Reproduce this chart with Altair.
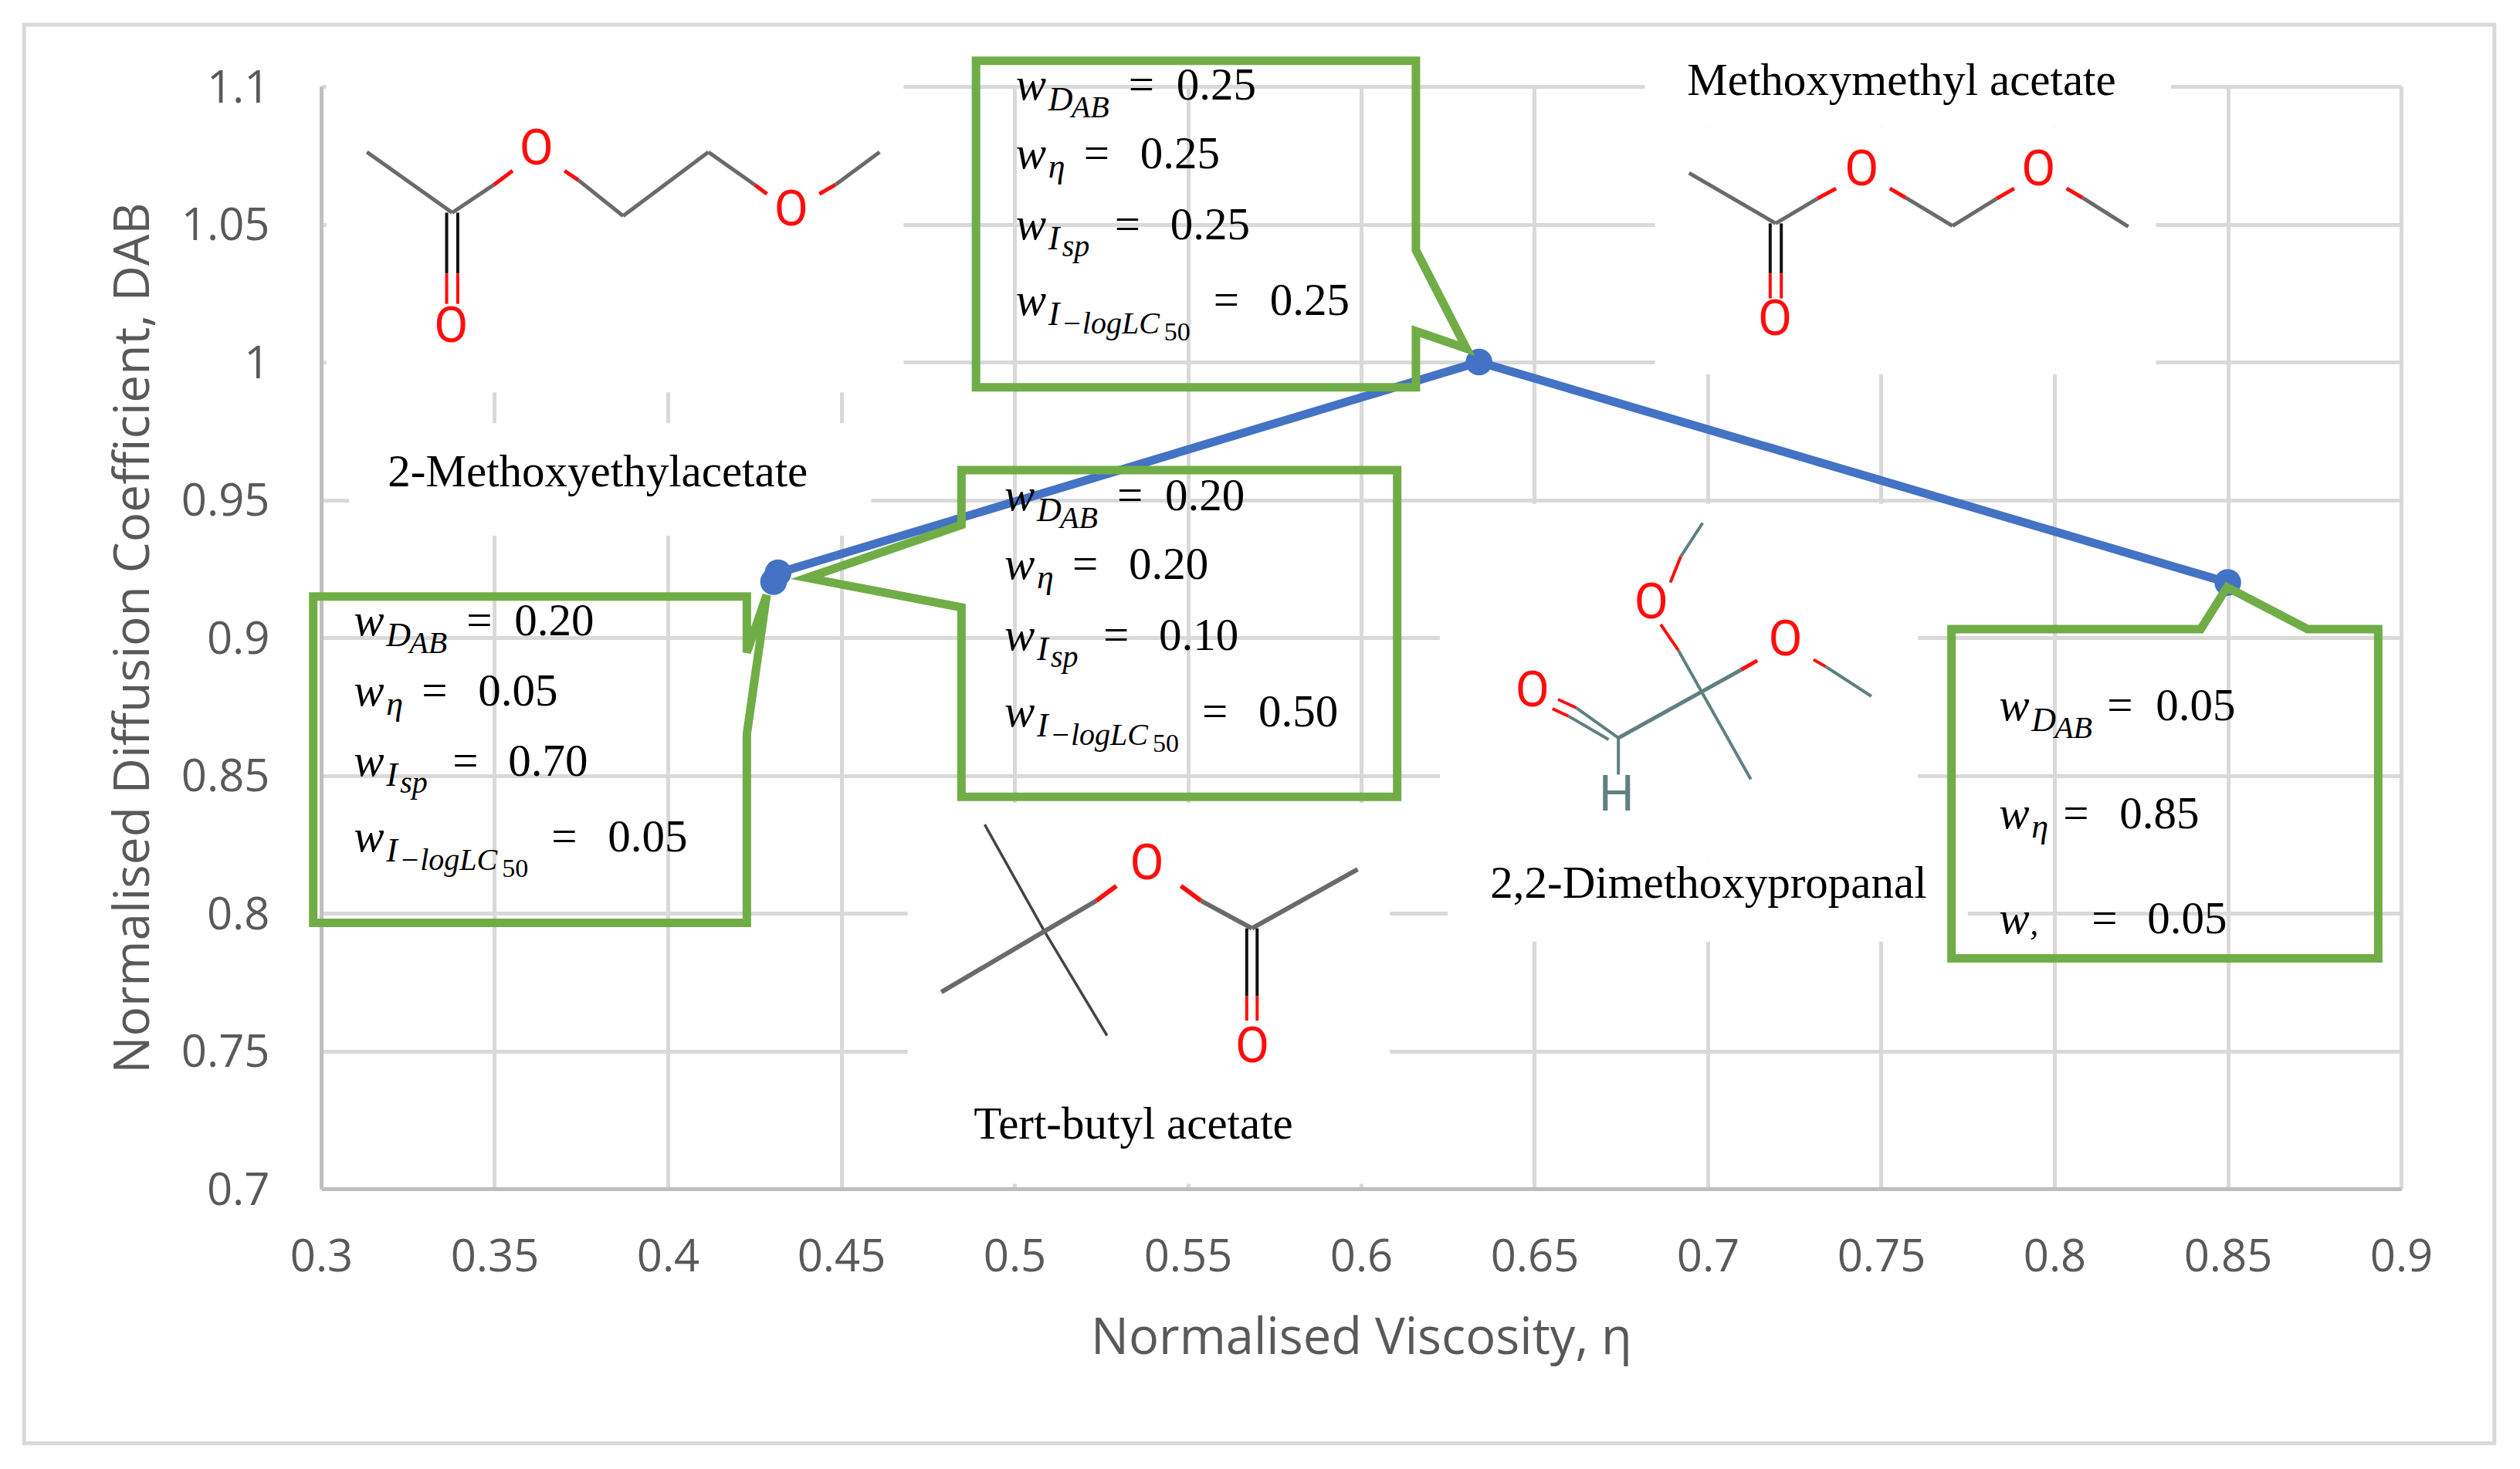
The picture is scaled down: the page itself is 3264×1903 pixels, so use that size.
import altair as alt
import pandas as pd

# ---- series ----
viscosity = [0.4305, 0.4318, 0.634, 0.85]
diffusion = [0.9203, 0.9235, 1.0, 0.92]
x_ticks = [round(0.3 + 0.05 * i, 2) for i in range(13)]
y_ticks = [round(0.7 + 0.05 * i, 2) for i in range(9)]

GRID, AXIS, LABEL = "#D9D9D9", "#BFBFBF", "#595959"
BLUE, GREEN = "#4472C4", "#70AD47"
GRAY, RED, BLK, SLATE, DK = "#6A6A6A", "#FF0D0D", "#111111", "#5F8080", "#444444"

# ---- callouts (data units): closed outlines ----
callouts = {
    "top": [(.4889,1.1093),(.6158,1.1093),(.6158,1.0406),(.6304,1.0049),(.6158,1.0112),(.6158,.9908),(.4889,.9908),(.4889,1.1093)],
    "mid": [(.4847,.9608),(.6104,.9608),(.6104,.8422),(.4847,.8422),(.4847,.9110),(.4402,.9217),(.4847,.9409),(.4847,.9608)],
    "left": [(.2977,.9149),(.4228,.9149),(.4228,.8946),(.4285,.9155),(.4228,.865),(.4228,.7965),(.2977,.7965),(.2977,.9149)],
    "right": [(.7703,.9031),(.8422,.9031),(.8498,.9183),(.8730,.9031),(.8934,.9031),(.8934,.7836),(.7703,.7836),(.7703,.9031)],
}
# weights per callout: start x, baselines y, values
weights = [
    (.5004, [1.0952,1.0703,1.0445,1.0171], ["0.25","0.25","0.25","0.25"], "std"),
    (.4971, [.9462,.9213,.8955,.8678], ["0.20","0.20","0.10","0.50"], "std"),
    (.3094, [.9008,.8754,.8499,.8224], ["0.20","0.05","0.70","0.05"], "std"),
    (.7840, [.8700,.8308,.7927], ["0.05","0.85","0.05"], "right"),
]

# ---- white areas of the pasted structure pictures ----
patches = [
    (.3015,.468,1.1115,.989),
    (.308,.4587,.9778,.937),
    (.6818,.8336,1.1115,1.085),
    (.6848,.8293,1.085,.9956),
    (.6227,.7606,.9485,.82),
    (.625,.775,.82,.7897),
    (.4692,.6083,.84,.7018),
]

# ---- structure bonds: x, x2, y, y2, colour, width ----
bonds = [
 # 2-methoxyethyl acetate
 (.3132,.3378,1.0762,1.0542,GRAY,5),(.3378,.3498,1.0542,1.0643,GRAY,5),(.3498,.3552,1.0643,1.0694,RED,5),
 (.3702,.3742,1.0694,1.0660,RED,5),(.3742,.3871,1.0660,1.0530,GRAY,5),(.3871,.4117,1.0530,1.0762,GRAY,5),
 (.4117,.4251,1.0762,1.0643,GRAY,5),(.4251,.4286,1.0643,1.0610,RED,5),(.4437,.4483,1.0610,1.0643,RED,5),
 (.4483,.4611,1.0643,1.0762,GRAY,5),
 (.3362,.3362,1.0542,1.0321,BLK,4),(.3394,.3394,1.0542,1.0321,BLK,4),(.3362,.3362,1.0321,1.0211,RED,4),(.3394,.3394,1.0321,1.0211,RED,4),
 # methoxymethyl acetate
 (.6946,.7196,1.0686,1.0503,GRAY,5),(.7196,.7316,1.0503,1.0593,GRAY,5),(.7316,.7370,1.0593,1.0630,RED,5),
 (.7525,.7571,1.0630,1.0596,RED,5),(.7571,.7706,1.0596,1.0494,GRAY,5),(.7706,.7833,1.0494,1.0593,GRAY,5),
 (.7833,.7884,1.0593,1.0630,RED,5),(.8035,.8081,1.0630,1.0596,RED,5),(.8081,.8213,1.0596,1.0491,GRAY,5),
 (.7180,.7180,1.0503,1.0321,BLK,4),(.7212,.7212,1.0503,1.0321,BLK,4),(.7180,.7180,1.0321,1.0231,RED,4),(.7212,.7212,1.0321,1.0231,RED,4),
 # 2,2-dimethoxypropanal
 (.6985,.6922,.9416,.9294,SLATE,4),(.6922,.6892,.9294,.9200,RED,4),(.6864,.6915,.9048,.8954,RED,4),(.6915,.7124,.8954,.8486,SLATE,4),
 (.7143,.7096,.8917,.8883,RED,5),(.7096,.6742,.8883,.8636,SLATE,5),(.7305,.7340,.8920,.8895,RED,4),(.7340,.7472,.8895,.8787,SLATE,4),
 (.6568,.6621,.8776,.8745,RED,4),(.6621,.6742,.8745,.8636,SLATE,4),(.6552,.6598,.8742,.8715,RED,4),(.6598,.6714,.8715,.8630,SLATE,4),
 (.6742,.6742,.8636,.8503,SLATE,4),
 # tert-butyl acetate
 (.4914,.5086,.8322,.7935,DK,3.5),(.5086,.5267,.7935,.7556,DK,3.5),(.4789,.5236,.7714,.8045,GRAY,6),(.5236,.5294,.8045,.8099,RED,6),
 (.5480,.5538,.8099,.8045,RED,6),(.5538,.5685,.8045,.7945,GRAY,6),(.5685,.5990,.7945,.8159,GRAY,6),
 (.5670,.5670,.7945,.7700,BLK,4),(.5700,.5700,.7945,.7700,BLK,4),(.5670,.5670,.7700,.7610,RED,4),(.5700,.5700,.7700,.7610,RED,4),
]

# atom letters
atoms = [
 ("O",.3621,1.0771,RED),("O",.4356,1.0550,RED),("O",.3375,1.0126,RED),
 ("O",.7444,1.0694,RED),("O",.7954,1.0694,RED),("O",.7194,1.0151,RED),
 ("O",.6837,.9124,RED),("O",.7224,.8988,RED),("O",.6494,.8805,RED),("H",.6737,.8427,SLATE),
 ("O",.5382,.8176,RED),("O",.5686,.7512,RED),
]
names = [
 ("2-Methoxyethylacetate",.3798,.9599),
 ("Methoxymethyl acetate",.7559,1.102),
 ("2,2-Dimethoxypropanal",.7002,.8107),
 ("Tert-butyl acetate",.5343,.7232),
]

# ---- frame around the whole figure ----
frame = [(.2143,.9269,1.1224,.6076)]

# ---- weight text layouts: (text, dx px, dy px, size, italic) ----
S, SUB, SS, SN = 59, 44, 40, 34
def line_parts(kind, value, layout):
    if kind == 0:
        parts = [("w",0,0,S,1),("D",42,14,SUB,1),("AB",72,23,SS,1),("=",146,0,S,0),(value,208,0,S,0)]
    elif kind == 1:
        parts = [("w",0,0,S,1),("η",42,12,SUB,1),("=",88,0,S,0),(value,161,0,S,0)]
    elif kind == 2 and layout == "right":
        parts = [("w",0,0,S,1),(",",40,2,SUB,1),("=",120,0,S,0),(value,192,0,S,0)]
    elif kind == 2:
        parts = [("w",0,0,S,1),("I",42,13,SUB,1),("sp",60,22,SS,1),("=",128,0,S,0),(value,200,0,S,0)]
    else:
        parts = [("w",0,0,S,1),("I",42,13,SUB,1),("−logLC",59,24,SS,1),("50",192,33,SN,0),("=",256,0,S,0),(value,329,0,S,0)]
    return parts

PXX, PXY = 0.6 / 2694, 0.4 / 1428
frags = []
for x0, ys, vals, layout in weights:
    for k, (yb, v) in enumerate(zip(ys, vals)):
        for t, dx, dy, s, it in line_parts(k, v, layout):
            if layout == "right" and k == 0 and t == "=":
                dx = 140
            if layout == "right" and k == 0 and t == v:
                dx = 203
            if layout == "right" and k == 1 and t == "=":
                dx = 83
            if layout == "right" and k == 1 and t == v:
                dx = 156
            frags.append(dict(t=t, x=x0 + dx * PXX, y=yb - dy * PXY, s=s, it=it))
frags = pd.DataFrame(frags)

sx = alt.Scale(domain=[0.3, 0.9], nice=False, zero=False)
sy = alt.Scale(domain=[0.7, 1.1], nice=False, zero=False)
X = alt.X("x:Q", scale=sx, title="Normalised Viscosity, η",
    axis=alt.Axis(values=x_ticks, format=".2~f", grid=True, gridColor=GRID, gridWidth=5,
        domainColor=AXIS, domainWidth=5, ticks=False, labelPadding=60, labelFontSize=58,
        labelFont="Open Sans", labelColor=LABEL, labelFlush=False, labelOverlap=False,
        titleFont="Open Sans", titleFontSize=65, titleFontWeight="normal", titleColor=LABEL,
        titleBaseline="alphabetic", titleY=213))
Y = alt.Y("y:Q", scale=sy, title="Normalised Diffusion Coefficient, DAB",
    axis=alt.Axis(values=y_ticks, format=".2~f", grid=True, gridColor=GRID, gridWidth=5,
        domainColor=AXIS, domainWidth=5, ticks=False, labelPadding=67, labelFontSize=58,
        labelOffset=3,
        labelFont="Open Sans", labelColor=LABEL, labelOverlap=False,
        titleFont="Open Sans", titleFontSize=64, titleFontWeight="normal", titleColor=LABEL,
        titleBaseline="alphabetic", titleX=-224))

rect_df = lambda rows: pd.DataFrame(rows, columns=["x", "x2", "y", "y2"])

frame_l = alt.Chart(rect_df(frame)).mark_rect(fillOpacity=0, stroke=GRID, strokeWidth=5).encode(
    x=X, x2="x2:Q", y=Y, y2="y2:Q")
patch_l = alt.Chart(rect_df(patches)).mark_rect(fill="white").encode(
    x=X, x2="x2:Q", y=Y, y2="y2:Q")
bond_df = pd.DataFrame(bonds, columns=["x", "x2", "y", "y2", "c", "w"])
bond_l = alt.Chart(bond_df).mark_rule(strokeCap="butt").encode(
    x=X, x2="x2:Q", y=Y, y2="y2:Q",
    color=alt.Color("c:N", scale=None), strokeWidth=alt.StrokeWidth("w:Q", scale=None))
atom_df = pd.DataFrame(atoms, columns=["t", "x", "y", "c"])
atom_l = alt.Chart(atom_df).mark_text(font="Roboto", fontSize=64, baseline="middle", align="center").encode(
    x=X, y=Y, text="t:N", color=alt.Color("c:N", scale=None))
name_df = pd.DataFrame(names, columns=["t", "x", "y"])
name_l = alt.Chart(name_df).mark_text(font="Liberation Serif", fontSize=59, baseline="middle", align="center", color="#000000").encode(
    x=X, y=Y, text="t:N")
series_df = pd.DataFrame({"x": viscosity, "y": diffusion})
line_l = alt.Chart(series_df).mark_line(color=BLUE, strokeWidth=11).encode(x=X, y=Y, order=alt.Order("x:Q"))
point_l = alt.Chart(series_df).mark_point(filled=True, color=BLUE, size=1200, opacity=1).encode(x=X, y=Y)
call_df = pd.DataFrame([dict(g=k, i=i, x=p[0], y=p[1]) for k, pts in callouts.items() for i, p in enumerate(pts)])
call_l = alt.Chart(call_df).mark_line(color=GREEN, strokeWidth=11, strokeJoin="miter", strokeCap="square").encode(
    x=X, y=Y, detail="g:N", order=alt.Order("i:Q"))
text_r = alt.Chart(frags[frags.it == 0]).mark_text(font="Liberation Serif", align="left", baseline="alphabetic", color="#000000").encode(
    x=X, y=Y, text="t:N", size=alt.Size("s:Q", scale=None))
text_i = alt.Chart(frags[frags.it == 1]).mark_text(font="Liberation Serif", fontStyle="italic", align="left", baseline="alphabetic", color="#000000").encode(
    x=X, y=Y, text="t:N", size=alt.Size("s:Q", scale=None))

chart = alt.layer(frame_l, patch_l, bond_l, atom_l, name_l, line_l, point_l, call_l, text_r, text_i).properties(
    width=2694, height=1428,
    autosize=alt.AutoSizeParams(type="none"),
    padding={"left": 408, "top": 104, "right": 140, "bottom": 340},
).configure_view(stroke=None).configure(background="white")

chart.save("out.html", embed_options={"renderer": "svg", "actions": False})
